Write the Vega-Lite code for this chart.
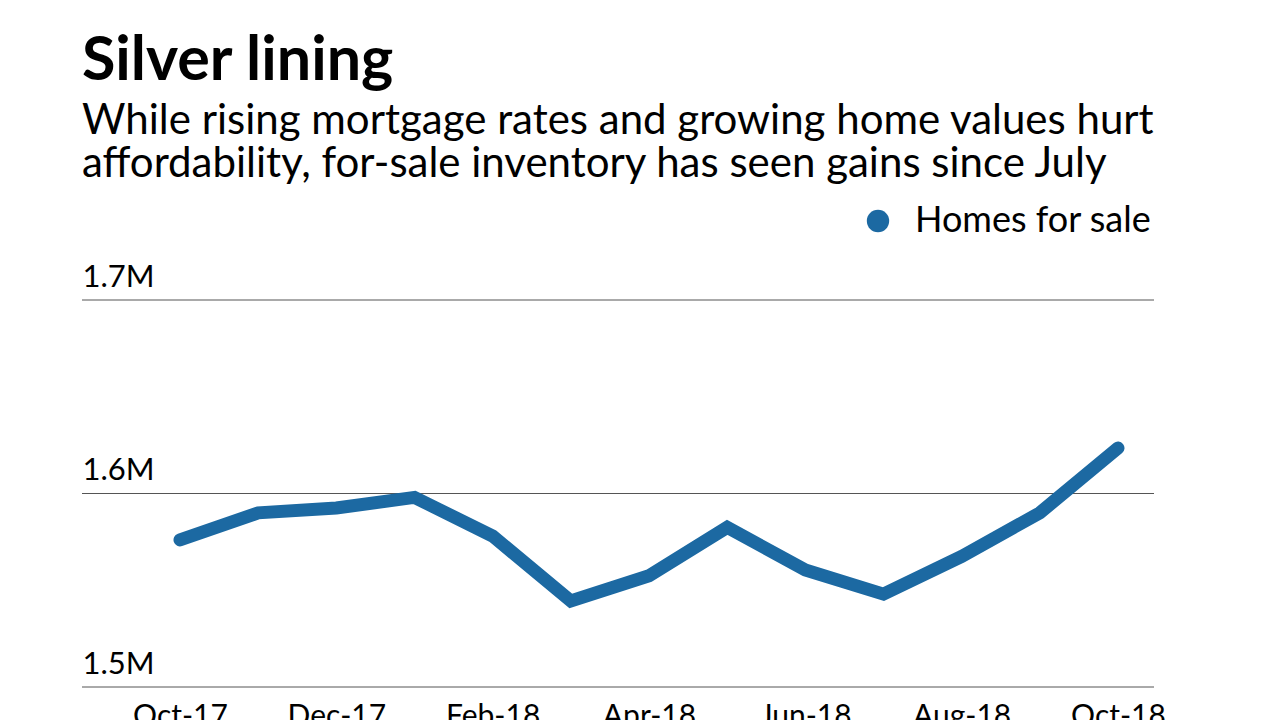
{
  "$schema": "https://vega.github.io/schema/vega-lite/v6.json",
  "autosize": "none",
  "width": 1072,
  "height": 387,
  "padding": {"left": 82, "top": 300, "right": 126, "bottom": 33},
  "background": "white",
  "title": {
    "text": "Silver lining",
    "subtitle": ["While rising mortgage rates and growing home values hurt", "affordability, for-sale inventory has seen gains since July"],
    "anchor": "start",
    "frame": "group",
    "font": "Lato",
    "fontSize": 61,
    "fontWeight": "bold",
    "color": "black",
    "subtitleFont": "Lato",
    "subtitleFontSize": 42,
    "subtitleColor": "black",
    "subtitleLineHeight": 43,
    "subtitlePadding": 8,
    "offset": 17
  },
  "datasets": {
    "inventory": [
      {"month": "Oct-17", "homes": 1576000, "series": "Homes for sale"},
      {"month": "Nov-17", "homes": 1590000, "series": "Homes for sale"},
      {"month": "Dec-17", "homes": 1592500, "series": "Homes for sale"},
      {"month": "Jan-18", "homes": 1598000, "series": "Homes for sale"},
      {"month": "Feb-18", "homes": 1578000, "series": "Homes for sale"},
      {"month": "Mar-18", "homes": 1544500, "series": "Homes for sale"},
      {"month": "Apr-18", "homes": 1557500, "series": "Homes for sale"},
      {"month": "May-18", "homes": 1582500, "series": "Homes for sale"},
      {"month": "Jun-18", "homes": 1560500, "series": "Homes for sale"},
      {"month": "Jul-18", "homes": 1548000, "series": "Homes for sale"},
      {"month": "Aug-18", "homes": 1567500, "series": "Homes for sale"},
      {"month": "Sep-18", "homes": 1590000, "series": "Homes for sale"},
      {"month": "Oct-18", "homes": 1623500, "series": "Homes for sale"}
    ],
    "gridlines": [
      {"level": 1500000},
      {"level": 1600000},
      {"level": 1700000}
    ]
  },
  "layer": [
    {
      "data": {"name": "gridlines"},
      "mark": {"type": "rule", "color": "#555555", "strokeWidth": 1},
      "encoding": {
        "y": {"field": "level", "type": "quantitative"}
      }
    },
    {
      "data": {"name": "inventory"},
      "mark": {"type": "line", "strokeWidth": 13, "strokeCap": "round", "strokeJoin": "miter"},
      "encoding": {
        "x": {
          "field": "month",
          "type": "ordinal",
          "sort": null,
          "scale": {"type": "point", "range": [98, 1036], "padding": 0},
          "axis": {
            "title": null,
            "domain": false,
            "ticks": false,
            "grid": false,
            "labelAngle": 0,
            "labelFont": "Lato",
            "labelFontSize": 30,
            "labelColor": "black",
            "labelPadding": 14,
            "labelBaseline": "top",
            "labelExpr": "indexof(['Oct-17','Dec-17','Feb-18','Apr-18','Jun-18','Aug-18','Oct-18'], datum.label) >= 0 ? datum.label : ''"
          }
        },
        "y": {
          "field": "homes",
          "type": "quantitative",
          "scale": {"domain": [1500000, 1700000], "nice": false, "zero": false},
          "axis": {
            "title": null,
            "values": [1500000, 1600000, 1700000],
            "format": ".2~s",
            "domain": false,
            "ticks": false,
            "tickSize": 0,
            "grid": false,
            "labelAlign": "left",
            "labelBaseline": "bottom",
            "labelPadding": 0,
            "labelOffset": -7,
            "labelFont": "Lato",
            "labelFontSize": 31,
            "labelColor": "black"
          }
        },
        "color": {
          "field": "series",
          "type": "nominal",
          "scale": {"range": ["#1c69a2"]},
          "legend": {
            "title": null,
            "orient": "none",
            "legendX": 778,
            "legendY": -97,
            "padding": 0,
            "symbolType": "circle",
            "symbolSize": 500,
            "symbolFillColor": "#1c69a2",
            "symbolStrokeWidth": 0,
            "labelFont": "Lato",
            "labelFontSize": 36,
            "labelLimit": 500,
            "labelColor": "black",
            "labelOffset": 19
          }
        }
      }
    }
  ],
  "config": {"view": {"stroke": null}}
}
